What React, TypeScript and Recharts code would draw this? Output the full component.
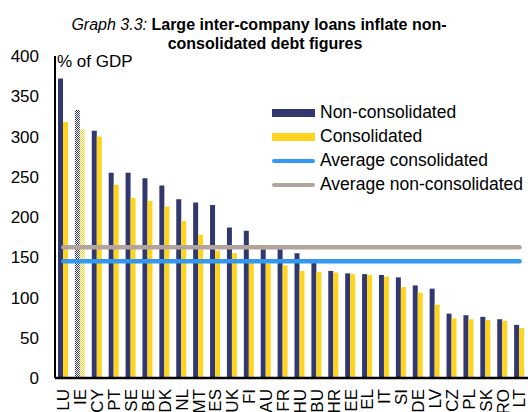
import { Bar, Cell, ComposedChart, Line, XAxis, YAxis } from 'recharts'

const countries = ['LU', 'IE', 'CY', 'PT', 'SE', 'BE', 'DK', 'NL', 'MT', 'ES', 'UK', 'FI', 'AU', 'FR', 'HU', 'BU', 'HR', 'EE', 'EL', 'IT', 'SI', 'DE', 'LV', 'CZ', 'PL', 'SK', 'RO', 'LT']
const nonConsolidated = [372, 333, 307, 255, 255, 248, 239, 222, 218, 215, 187, 183, 160, 160, 155, 143, 133, 130, 129, 128, 125, 115, 111, 80, 78, 76, 73, 66]
const consolidated = [318, 309, 300, 240, 224, 220, 213, 195, 178, 158, 155, 144, 142, 140, 133, 132, 131, 129, 128, 126, 113, 106, 91, 74, 73, 72, 71, 62]
const avgConsolidated = 145
const avgNonConsolidated = 162.5
const yTicks = [0, 50, 100, 150, 200, 250, 300, 350, 400]

// IE is shown with a checkered fill in the source
const hatched = ['IE']

const NAVY = '#31386F'
const YELLOW = '#FFD41F'
const BLUE = '#3399F0'
const TAUPE = '#B3A59D'
const FONT = '"Liberation Sans", Arial, sans-serif'

const data = countries.map((c, i) => ({
  name: c,
  non: nonConsolidated[i],
  cons: consolidated[i],
  avgCons: avgConsolidated,
  avgNon: avgNonConsolidated,
}))

function XTick({ x, y, payload }: { x?: number; y?: number; payload?: { value: string } }) {
  return (
    <text
      x={x}
      y={y}
      transform={`rotate(-90 ${x} ${y})`}
      textAnchor="end"
      dy="0.35em"
      fill="#000"
      fontSize={17}
      fontFamily={FONT}
    >
      {payload?.value}
    </text>
  )
}

const legendItems = [
  { label: 'Non-consolidated', color: NAVY, h: 8, round: false },
  { label: 'Consolidated', color: YELLOW, h: 8, round: false },
  { label: 'Average consolidated', color: BLUE, h: 4, round: true },
  { label: 'Average non-consolidated', color: TAUPE, h: 4, round: true },
]

export default function App() {
  return (
    <div style={{ position: 'absolute', left: 0, top: 0, width: 528, height: 412, fontFamily: FONT, background: '#fff' }}>
      <div style={{ position: 'absolute', left: 0, top: 14.5, width: 518, textAlign: 'center', fontSize: 16, lineHeight: '19px', whiteSpace: 'nowrap' }}>
        <i>Graph 3.3:</i> <b>Large inter-company loans inflate non-</b>
      </div>
      <div style={{ position: 'absolute', left: 0, top: 33.5, width: 530, textAlign: 'center', fontSize: 16, lineHeight: '19px', whiteSpace: 'nowrap' }}>
        <b>consolidated debt figures</b>
      </div>

      <ComposedChart
        width={528}
        height={412}
        data={data}
        margin={{ top: 56, right: 0, bottom: 0, left: 0 }}
        barGap={0}
        barCategoryGap={0}
      >
        <defs>
          <pattern id="checkNavy" patternUnits="userSpaceOnUse" width={2} height={2}>
            <rect width={2} height={2} fill="#fff" />
            <rect x={0} y={0} width={1} height={1} fill={NAVY} />
            <rect x={1} y={1} width={1} height={1} fill={NAVY} />
          </pattern>
          <pattern id="checkYellow" patternUnits="userSpaceOnUse" width={2} height={2}>
            <rect width={2} height={2} fill="#fff" />
            <rect x={0} y={0} width={1} height={1} fill={YELLOW} />
            <rect x={1} y={1} width={1} height={1} fill={YELLOW} />
          </pattern>
        </defs>
        <XAxis
          dataKey="name"
          height={34}
          interval={0}
          tick={<XTick />}
          tickLine={false}
          tickSize={0}
          tickMargin={11}
          axisLine={{ stroke: '#000', strokeWidth: 2.5 }}
        />
        <YAxis
          width={55}
          domain={[0, 400]}
          ticks={yTicks}
          tickLine={false}
          tickSize={0}
          tickMargin={16}
          axisLine={{ stroke: '#000', strokeWidth: 2 }}
          tick={{ fill: '#000', fontSize: 17, fontFamily: FONT }}
        />
        <Bar dataKey="non" barSize={5} fill={NAVY} isAnimationActive={false}>
          {data.map((d) => (
            <Cell key={d.name} fill={hatched.includes(d.name) ? 'url(#checkNavy)' : NAVY} />
          ))}
        </Bar>
        <Bar dataKey="cons" barSize={5} fill={YELLOW} isAnimationActive={false}>
          {data.map((d) => (
            <Cell key={d.name} fill={hatched.includes(d.name) ? 'url(#checkYellow)' : YELLOW} />
          ))}
        </Bar>
        <Line dataKey="avgNon" stroke={TAUPE} strokeWidth={4.5} strokeLinecap="round" dot={false} activeDot={false} isAnimationActive={false} />
        <Line dataKey="avgCons" stroke={BLUE} strokeWidth={4.5} strokeLinecap="round" dot={false} activeDot={false} isAnimationActive={false} />
      </ComposedChart>

      <div style={{ position: 'absolute', left: 57, top: 52.5, fontSize: 17, lineHeight: '17px' }}>% of GDP</div>

      <div style={{ position: 'absolute', left: 272, top: 100.5, fontSize: 17.5 }}>
        {legendItems.map((it) => (
          <div key={it.label} style={{ display: 'flex', alignItems: 'center', height: 24 }}>
            <span
              style={{
                display: 'inline-block',
                width: 43,
                height: it.h,
                background: it.color,
                borderRadius: it.round ? 2 : 0,
              }}
            />
            <span style={{ marginLeft: 5, whiteSpace: 'nowrap' }}>{it.label}</span>
          </div>
        ))}
      </div>
    </div>
  )
}
